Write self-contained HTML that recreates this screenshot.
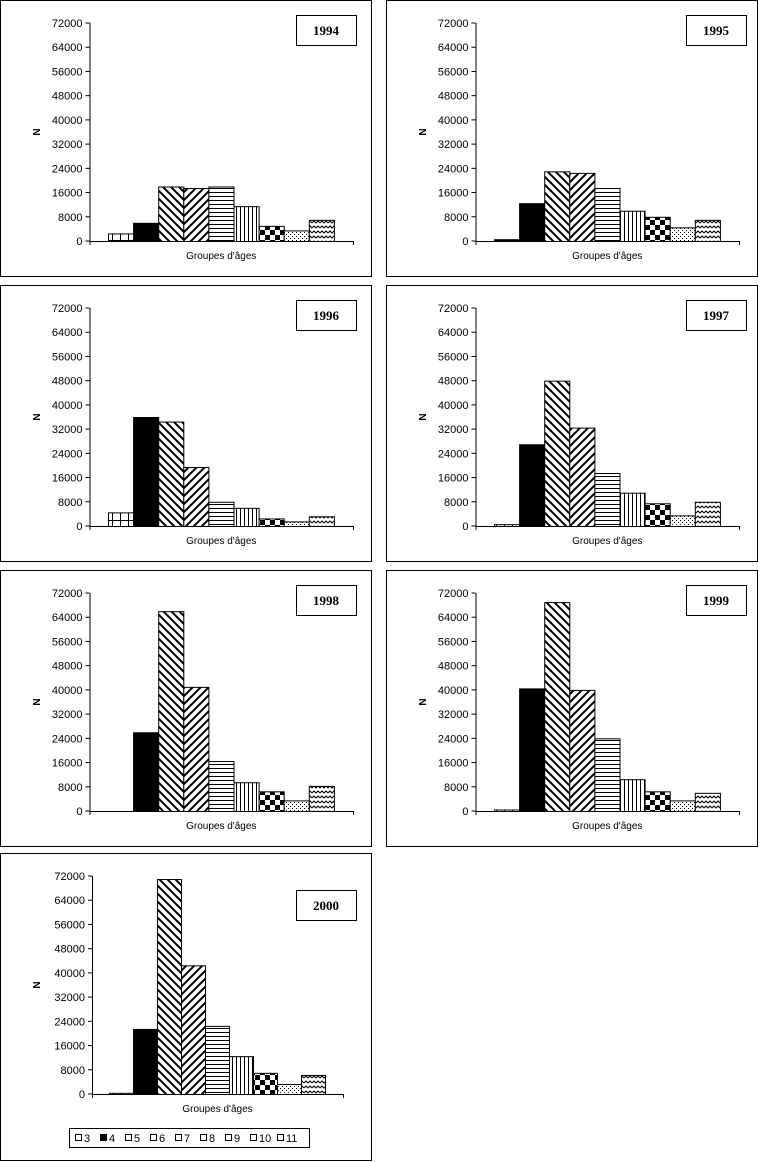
<!DOCTYPE html>
<html><head><meta charset="utf-8"><style>
body{margin:0;background:#fff;width:759px;height:1162px;overflow:hidden}
svg{display:block}
text{font-family:"Liberation Sans",Arial,sans-serif;font-size:11px;fill:#000}
</style></head><body>
<svg id="s" width="759" height="1162" xmlns="http://www.w3.org/2000/svg">
<defs>
<pattern id="p0" width="8" height="8" patternUnits="userSpaceOnUse"><rect width="8" height="8" fill="#fff"/><path d="M0 0.5H8M0.5 0V8" stroke="#000" stroke-width="1"/></pattern>
<pattern id="p2" width="8" height="8" patternUnits="userSpaceOnUse"><rect width="8" height="8" fill="#fff"/><path d="M-2 -2L10 10M-2 6L2 10M6 -2L10 2" stroke="#000" stroke-width="2"/></pattern>
<pattern id="p3" width="8" height="8" patternUnits="userSpaceOnUse"><rect width="8" height="8" fill="#fff"/><path d="M-2 10L10 -2M-2 2L2 -2M6 10L10 6" stroke="#000" stroke-width="2"/></pattern>
<pattern id="p4" width="4" height="4" patternUnits="userSpaceOnUse"><rect width="4" height="4" fill="#fff"/><path d="M0 0.5H4" stroke="#000"/></pattern>
<pattern id="p5" width="4" height="4" patternUnits="userSpaceOnUse"><rect width="4" height="4" fill="#fff"/><path d="M0.5 0V4" stroke="#000"/></pattern>
<pattern id="p6" width="10" height="10" patternUnits="userSpaceOnUse"><rect width="10" height="10" fill="#fff"/><rect width="5" height="5" fill="#000"/><rect x="5" y="5" width="5" height="5" fill="#000"/></pattern>
<pattern id="p7" width="4" height="4" patternUnits="userSpaceOnUse"><rect width="4" height="4" fill="#fff"/><rect width="1" height="1" fill="#000"/><rect x="2" y="2" width="1" height="1" fill="#000"/></pattern>
<pattern id="p8" width="8" height="5" patternUnits="userSpaceOnUse"><rect width="8" height="5" fill="#fff"/><path d="M0 3L2 1L4 3L6 1L8 3" fill="none" stroke="#000"/></pattern>
</defs>
</svg>
<script>
var fills=['url(#p0)','#000','url(#p2)','url(#p3)','url(#p4)','url(#p5)','url(#p6)','url(#p7)','url(#p8)'];
var P=[
[0,0,'1994',[2500,6000,18000,17500,18000,11500,5000,3500,7000],296],
[386,0,'1995',[600,12500,23000,22500,17500,10000,8000,4500,7000],300],
[0,285,'1996',[4500,36000,34500,19500,8000,6000,2500,1500,3200],296],
[386,285,'1997',[600,27000,48000,32500,17500,11000,7500,3500,8000],300],
[0,570,'1998',[0,26000,66000,41000,16500,9500,6500,3500,8300],296],
[386,570,'1999',[500,40500,69000,40000,24000,10500,6500,3500,6000],300]
];
var h='';
function chart(px,py,yr,v,tb,ax,bx,bw,xe,W,H,tby){
 h+='<rect x="'+(px+0.5)+'" y="'+(py+0.5)+'" width="'+(W-1)+'" height="'+(H-1)+'" fill="none" stroke="#000"/>';
 var y0=py+241,sc=218/72000;
 for(var i=0;i<=9;i++){var y=y0-i*8000*sc;
  h+='<line x1="'+(px+ax-4)+'" x2="'+(px+ax)+'" y1="'+y+'" y2="'+y+'" stroke="#000"/>';
  h+='<text x="'+(px+ax-7)+'" y="'+(y+4)+'" text-anchor="end">'+(i*8000)+'</text>';}
 for(var j=0;j<v.length;j++){var bh=v[j]*sc;if(bh<=0)continue;
  h+='<rect x="'+(px+bx+j*bw+0.5)+'" y="'+(y0-bh+0.5)+'" width="'+bw+'" height="'+bh+'" fill="'+fills[j]+'" stroke="#000"/>';}
 h+='<line x1="'+(px+ax+0.5)+'" x2="'+(px+ax+0.5)+'" y1="'+(py+23)+'" y2="'+(y0+4)+'" stroke="#000"/>';
 h+='<line x1="'+(px+ax)+'" x2="'+(px+xe)+'" y1="'+(y0+0.5)+'" y2="'+(y0+0.5)+'" stroke="#000"/>';
 h+='<line x1="'+(px+xe+0.5)+'" x2="'+(px+xe+0.5)+'" y1="'+y0+'" y2="'+(y0+4)+'" stroke="#000"/>';
 h+='<text transform="translate('+(px+40)+','+(py+132)+') rotate(-90)" text-anchor="middle" style="font-weight:bold;font-size:10px">N</text>';
 h+='<text x="'+(px+(ax+xe)/2)+'" y="'+(y0+18)+'" text-anchor="middle" style="font-size:10px">Groupes d\'âges</text>';
 h+='<rect x="'+(px+tb+0.5)+'" y="'+(py+tby+0.5)+'" width="60" height="30" fill="#fff" stroke="#000"/>';
 h+='<text x="'+(px+tb+30)+'" y="'+(py+tby+20)+'" text-anchor="middle" style="font-family:\'Liberation Serif\',serif;font-weight:bold;font-size:13px">'+yr+'</text>';
}
P.forEach(function(p){chart(p[0],p[1],p[2],p[3],p[4],89.5,108,25.1,353,372,277,15);});
chart(0,853,'2000',[400,21500,71000,42500,22500,12500,7000,3300,6300],296,92,109,24,343,372,308,37);
// legend
h+='<rect x="69.5" y="1128.5" width="240" height="19" fill="#fff" stroke="#000"/>';
var lx=75;
for(var k=0;k<9;k++){
 h+='<rect x="'+(lx+0.5)+'" y="1134.5" width="6" height="6" fill="'+(k==1?'#000':'#fff')+'" stroke="#000"/>';
 h+='<text x="'+(lx+9)+'" y="1142">'+(k+3)+'</text>';
 lx+= (k<7?25:27);
}
document.getElementById('s').insertAdjacentHTML('beforeend',h);
</script>
</body></html>
